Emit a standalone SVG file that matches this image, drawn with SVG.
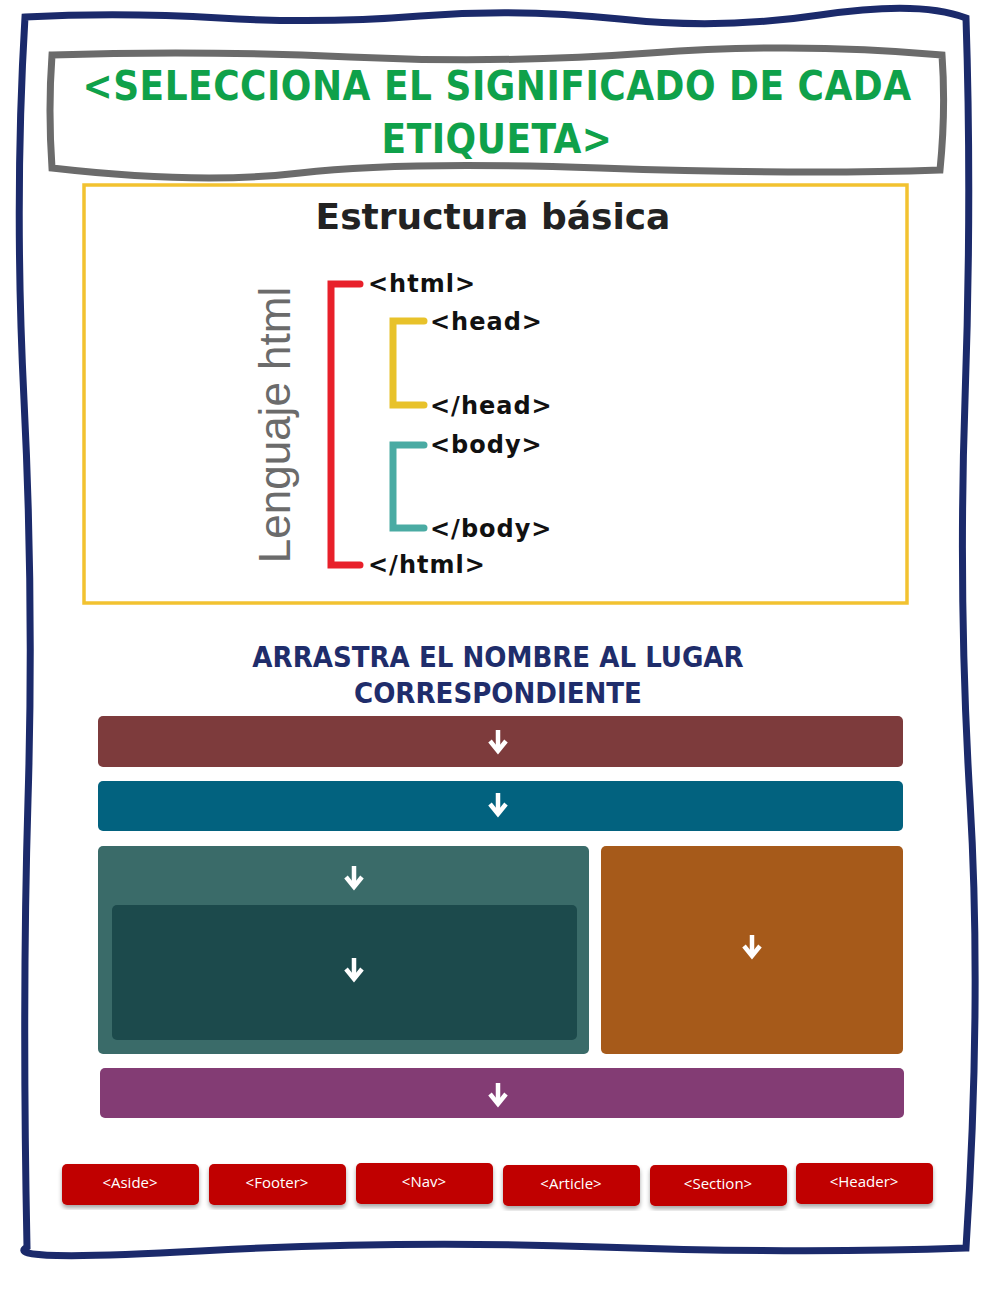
<svg xmlns="http://www.w3.org/2000/svg" width="1000" height="1291" viewBox="0 0 1000 1291">
<style>
.tag{font-family:"DejaVu Sans",sans-serif;font-weight:bold;font-size:24px;fill:#111;letter-spacing:1px}
.btn rect{fill:#c00000}
.btn text{font-family:"Open Sans","Liberation Sans",sans-serif;font-size:15px;fill:#fff;text-anchor:middle}
.arr{stroke:#fff;stroke-width:4.5;fill:none}
</style>
<defs>
<g id="arrow"><line class="arr" x1="0" y1="-12" x2="0" y2="6"/><polyline class="arr" points="-8,-1 0,9 8,-1"/></g>
<filter id="sh"><feDropShadow dx="0" dy="3" stdDeviation="2" flood-opacity="0.35"/></filter>
</defs>
<rect width="1000" height="1291" fill="#fff"/>
<path d="M25,17 Q120,12 220,18 T420,16 T620,19 T820,15 T966,18 Q972,200 965,400 T970,800 T966,1248 Q800,1254 600,1247 T200,1251 T27,1247 Q22,1000 28,800 T24,400 T25,17 Z" fill="none" stroke="#1b2a6b" stroke-width="7"/>
<g id="title">
<path d="M52,55 Q200,50 350,57 T650,53 T942,55 Q946,110 940,170 Q800,175 600,168 T300,173 T52,168 Q48,110 52,55 Z" fill="#fff" stroke="#6b6b6b" stroke-width="7"/>
<text x="497" y="100" text-anchor="middle" font-family="DejaVu Sans" font-weight="bold" font-stretch="condensed" font-size="40" fill="#0fa14a" letter-spacing="0.5">&lt;SELECCIONA  EL  SIGNIFICADO  DE  CADA</text>
<text x="497" y="153" text-anchor="middle" font-family="DejaVu Sans" font-weight="bold" font-stretch="condensed" font-size="40" fill="#0fa14a" letter-spacing="0.5">ETIQUETA&gt;</text>
</g>
<g id="estructura">
<rect x="84" y="185" width="823" height="418" fill="#fff" stroke="#f2c230" stroke-width="3.5"/>
<text x="493" y="229" text-anchor="middle" font-family="DejaVu Sans,sans-serif" font-weight="bold" font-size="36" fill="#222">Estructura básica</text>
<text transform="translate(290,425) rotate(-90)" text-anchor="middle" font-family="Liberation Sans,Arial,sans-serif" font-size="44" fill="#6b6b6b">Lenguaje html</text>
<path d="M360,284 H331 V565 H360" fill="none" stroke="#e8202a" stroke-width="7" stroke-linecap="round"/>
<path d="M424,321 H393 V405 H424" fill="none" stroke="#e8c22a" stroke-width="7" stroke-linecap="round"/>
<path d="M424,445 H393 V528 H424" fill="none" stroke="#4aaba3" stroke-width="7" stroke-linecap="round"/>
<text class="tag" x="368" y="292">&lt;html&gt;</text>
<text class="tag" x="430" y="330">&lt;head&gt;</text>
<text class="tag" x="430" y="414">&lt;/head&gt;</text>
<text class="tag" x="430" y="453">&lt;body&gt;</text>
<text class="tag" x="430" y="537">&lt;/body&gt;</text>
<text class="tag" x="368" y="573">&lt;/html&gt;</text>
</g>
<g id="heading" font-family="DejaVu Sans" font-weight="bold" font-stretch="condensed" font-size="29" fill="#1f2d6b" text-anchor="middle">
<text x="498" y="667">ARRASTRA EL NOMBRE AL LUGAR</text>
<text x="498" y="703">CORRESPONDIENTE</text>
</g>
<g id="header-bar"><rect x="98" y="716" width="805" height="51" rx="5" fill="#7d3b3c"/><use href="#arrow" x="498" y="742"/></g>
<g id="nav-bar"><rect x="98" y="781" width="805" height="50" rx="5" fill="#02627f"/><use href="#arrow" x="498" y="805"/></g>
<g id="section-box"><rect x="98" y="846" width="491" height="208" rx="5" fill="#3a6b69"/><use href="#arrow" x="354" y="878"/></g>
<g id="article-box"><rect x="112" y="905" width="465" height="135" rx="5" fill="#1c4a4c"/><use href="#arrow" x="354" y="970"/></g>
<g id="aside-box"><rect x="601" y="846" width="302" height="208" rx="5" fill="#a65a1a"/><use href="#arrow" x="752" y="947"/></g>
<g id="footer-bar"><rect x="100" y="1068" width="804" height="50" rx="5" fill="#833c74"/><use href="#arrow" x="498" y="1095"/></g>
<g id="btn-aside" class="btn"><rect x="62" y="1164" width="137" height="41" rx="5" filter="url(#sh)"/><text x="130" y="1188">&lt;Aside&gt;</text></g>
<g id="btn-footer" class="btn"><rect x="209" y="1164" width="137" height="41" rx="5" filter="url(#sh)"/><text x="277" y="1188">&lt;Footer&gt;</text></g>
<g id="btn-nav" class="btn"><rect x="356" y="1163" width="137" height="41" rx="5" filter="url(#sh)"/><text x="424" y="1187">&lt;Nav&gt;</text></g>
<g id="btn-article" class="btn"><rect x="503" y="1165" width="137" height="41" rx="5" filter="url(#sh)"/><text x="571" y="1189">&lt;Article&gt;</text></g>
<g id="btn-section" class="btn"><rect x="650" y="1165" width="137" height="41" rx="5" filter="url(#sh)"/><text x="718" y="1189">&lt;Section&gt;</text></g>
<g id="btn-header" class="btn"><rect x="796" y="1163" width="137" height="41" rx="5" filter="url(#sh)"/><text x="864" y="1187">&lt;Header&gt;</text></g>
</svg>
